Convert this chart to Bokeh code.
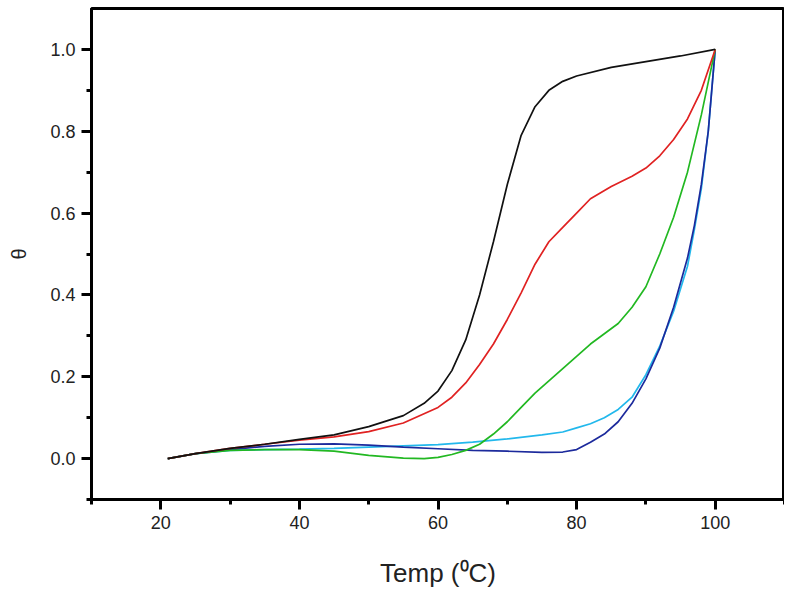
from bokeh.plotting import figure
from bokeh.models import FixedTicker, Range1d
from bokeh.embed import file_html
from bokeh.resources import INLINE

# --- data ---
black_t = [21, 25, 30, 35, 40, 45, 50, 55, 58, 60, 62, 64, 66, 68, 70, 72, 74, 76, 78, 80, 85, 90, 95, 100]
black_y = [0.0, 0.012, 0.025, 0.035, 0.047, 0.058, 0.078, 0.105, 0.135, 0.165, 0.215, 0.29, 0.40, 0.53,
           0.67, 0.79, 0.86, 0.90, 0.922, 0.935, 0.956, 0.970, 0.984, 1.0]

red_t = [21, 25, 30, 35, 40, 45, 50, 55, 60, 62, 64, 66, 68, 70, 72, 74, 76, 78, 80, 82, 85, 88, 90, 92, 94, 96, 98, 100]
red_y = [0.0, 0.012, 0.025, 0.035, 0.045, 0.053, 0.066, 0.087, 0.125, 0.15, 0.185, 0.23, 0.28, 0.34,
         0.405, 0.475, 0.53, 0.565, 0.60, 0.635, 0.665, 0.69, 0.71, 0.74, 0.78, 0.83, 0.90, 1.0]

green_t = [21, 25, 30, 35, 40, 45, 50, 55, 58, 60, 62, 64, 66, 68, 70, 72, 74, 76, 78, 80, 82, 84, 86, 88,
           90, 92, 94, 96, 98, 100]
green_y = [0.0, 0.012, 0.02, 0.022, 0.022, 0.018, 0.008, 0.001, 0.0, 0.003, 0.01, 0.02, 0.035, 0.06, 0.09,
           0.125, 0.16, 0.19, 0.22, 0.25, 0.28, 0.305, 0.33, 0.37, 0.42, 0.50, 0.59, 0.70, 0.84, 1.0]

cyan_t = [21, 25, 30, 35, 40, 45, 50, 55, 60, 65, 70, 75, 78, 80, 82, 84, 86, 88, 90, 92, 94, 96, 97, 98, 99, 100]
cyan_y = [0.0, 0.012, 0.02, 0.022, 0.023, 0.025, 0.028, 0.031, 0.034, 0.04, 0.048, 0.058, 0.065, 0.075,
          0.085, 0.10, 0.12, 0.15, 0.205, 0.275, 0.36, 0.47, 0.56, 0.66, 0.80, 1.0]

navy_t = [21, 25, 30, 35, 40, 45, 50, 55, 60, 65, 70, 75, 78, 80, 82, 84, 86, 88, 90, 92, 94, 96, 97, 98, 99, 100]
navy_y = [0.0, 0.012, 0.022, 0.03, 0.035, 0.036, 0.033, 0.028, 0.024, 0.02, 0.018, 0.015, 0.016, 0.022,
          0.04, 0.06, 0.09, 0.135, 0.195, 0.27, 0.37, 0.49, 0.57, 0.67, 0.80, 1.0]

x_ticks = [20, 40, 60, 80, 100]
y_ticks = [0.0, 0.2, 0.4, 0.6, 0.8, 1.0]

p = figure(width=784, height=593, output_backend="svg", toolbar_location=None,
           x_range=Range1d(10, 110), y_range=Range1d(-0.1, 1.1),
           min_border_left=91, min_border_right=0, min_border_top=8, min_border_bottom=94)
p.background_fill_color = "white"
p.border_fill_color = "white"
p.outline_line_color = "black"
p.outline_line_width = 3
p.xgrid.visible = False
p.ygrid.visible = False

series = [
    (cyan_t, cyan_y, "#22b8ec"),
    (navy_t, navy_y, "#1c2a9c"),
    (green_t, green_y, "#22b822"),
    (red_t, red_y, "#e02222"),
    (black_t, black_y, "#111111"),
]
for t, y, c in series:
    p.line(t, y, line_color=c, line_width=1.7)

p.xaxis.ticker = FixedTicker(ticks=x_ticks, minor_ticks=[10, 30, 50, 70, 90, 110])
p.yaxis.ticker = FixedTicker(ticks=y_ticks, minor_ticks=[-0.1, 0.1, 0.3, 0.5, 0.7, 0.9])

for ax in (p.xaxis, p.yaxis):
    ax.axis_line_width = 3
    ax.axis_line_color = "black"
    ax.major_tick_line_width = 3
    ax.minor_tick_line_width = 3
    ax.major_tick_out = 10
    ax.major_tick_in = 0
    ax.minor_tick_out = 5
    ax.minor_tick_in = 0
    ax.major_label_text_font = "Liberation Sans"
    ax.major_label_text_font_size = "18px"
    ax.major_label_text_color = "#222222"
    ax.axis_label_text_font = "Liberation Sans"
    ax.axis_label_text_font_style = "normal"
    ax.axis_label_text_color = "#222222"

p.yaxis.major_label_overrides = {v: f"{v:.1f}" for v in y_ticks}
p.xaxis.major_label_standoff = 6
p.yaxis.major_label_standoff = 6
p.xaxis.axis_label = "Temp (\u2070C)"
p.xaxis.axis_label_text_font_size = "26px"
p.xaxis.axis_label_standoff = 26
p.yaxis.axis_label = "\u03b8"
p.yaxis.axis_label_text_font_size = "20px"
p.yaxis.axis_label_standoff = 17

open("out.html", "w").write(file_html(p, INLINE))
